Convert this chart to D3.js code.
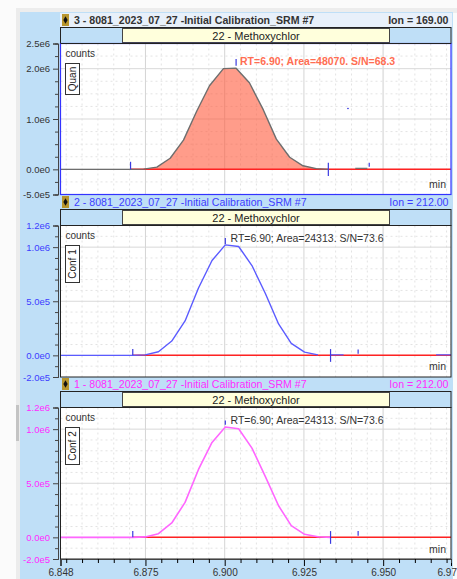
<!DOCTYPE html>
<html>
<head>
<meta charset="utf-8">
<script src="https://cdn.jsdelivr.net/npm/d3@7"></script>
<style>
  html, body { margin: 0; padding: 0; background: #fbfbfb; overflow: hidden; }
  svg { display: block; font-family: "Liberation Sans", Arial, sans-serif; }
</style>
</head>
<body>
<div id="chart"></div>
<script>
// values
let compoundName = "22 - Methoxychlor";
let xTicks = [6.8482, 6.875, 6.9, 6.925, 6.95, 6.9714];
let xTickLabels = ["6.848", "6.875", "6.900", "6.925", "6.950", "6.97"];
let xMinorTicks = [6.85, 6.855, 6.86, 6.865, 6.87, 6.88, 6.885, 6.89, 6.895, 6.905, 6.91, 6.915, 6.92, 6.93, 6.935, 6.94, 6.945, 6.955, 6.96, 6.965, 6.97];

let quanTimes = [6.8482, 6.8703, 6.8744, 6.8786, 6.8828, 6.887, 6.8912, 6.8952, 6.8996, 6.9036, 6.9078, 6.9122, 6.9163, 6.9205, 6.9247, 6.9289, 6.9327];
let quanValues = [0, 0, 5000, 44000, 220000, 580000, 1160000, 1660000, 2000000, 2010000, 1720000, 1180000, 600000, 240000, 70000, 15000, 0];
let conf1Times = [6.8482, 6.871, 6.8749, 6.8791, 6.8833, 6.8875, 6.8917, 6.896, 6.9002, 6.9044, 6.9086, 6.9128, 6.917, 6.921, 6.9252, 6.9294];
let conf1Values = [0, 0, 4000, 33000, 132000, 318000, 620000, 876000, 1021000, 1006000, 830000, 574000, 290000, 110000, 30000, 5000];
let conf2Times = [6.8482, 6.871, 6.8749, 6.8791, 6.8833, 6.8875, 6.8917, 6.896, 6.9002, 6.9044, 6.9086, 6.9128, 6.917, 6.921, 6.9252, 6.9294, 6.9334];
let conf2Values = [0, 0, 4000, 34000, 133000, 323000, 625000, 877000, 1020000, 1003000, 825000, 563000, 292000, 108000, 28000, 5000, 0];

// short bits of trace after the peak: [startTime, endTime, value]
let quanTail = [[6.9412, 6.945, 20000]];
let conf1Tail = [[6.9334, 6.9375, 5000], [6.9667, 6.9714, 5000]];
let conf2Tail = [];

// [time, low, high] for the small integration markers
let quanMarkers = [[6.8703, 0, 150000], [6.9036, 2060000, 2190000], [6.9327, -130000, 130000], [6.9456, 50000, 130000]];
let conf1Markers = [[6.871, 0, 58000], [6.9002, 1030000, 1085000], [6.9334, -60000, 58000], [6.9421, 15000, 55000]];
let conf2Markers = [[6.871, 0, 58000], [6.9002, 1040000, 1080000], [6.9334, -60000, 58000], [6.9421, 15000, 58000]];

let quanYTicks = [-500000, 0, 1000000, 2000000, 2500000];
let quanYLabels = ["-5.0e5", "0.0e0", "1.0e6", "2.0e6", "2.5e6"];
let quanYMinor = [-250000, 250000, 500000, 750000, 1250000, 1500000, 1750000, 2250000];
let confYTicks = [-200000, 0, 500000, 1000000, 1200000];
let confYLabels = ["-2.0e5", "0.0e0", "5.0e5", "1.0e6", "1.2e6"];
let confYMinor = [-100000, 100000, 200000, 300000, 400000, 600000, 700000, 800000, 900000, 1100000];

const W = 457, H = 579;

let panels = [
  { title: "3 - 8081_2023_07_27 -Initial Calibration_SRM #7", ion: "Ion = 169.00", tag: "Quan",
    note: "RT=6.90; Area=48070. S/N=68.3", noteX: 240, noteY: 65, noteColor: "#ff6e52", noteWeight: "bold",
    times: quanTimes, values: quanValues, tail: quanTail, markers: quanMarkers, line: "#6e6e6e", lineW: 1.4, fill: true,
    domain: [-500000, 2500000], ticks: quanYTicks, labels: quanYLabels, minor: quanYMinor,
    frameTop: 27.5, top: 43.5, bottom: 194.5, titleY: 24, tagTop: 63.5, tagBottom: 94.5,
    titleColor: "#333333", labelColor: "#333333", frame: "#3333ff", minY: 188 },
  { title: "2 - 8081_2023_07_27 -Initial Calibration_SRM #7", ion: "Ion = 212.00", tag: "Conf 1",
    note: "RT=6.90; Area=24313. S/N=73.6", noteX: 230.5, noteY: 242, noteColor: "#333333", noteWeight: "normal",
    times: conf1Times, values: conf1Values, tail: conf1Tail, markers: conf1Markers, line: "#5b5bff", lineW: 1.4, fill: false,
    domain: [-200000, 1200000], ticks: confYTicks, labels: confYLabels, minor: confYMinor,
    frameTop: 209.5, top: 225.5, bottom: 377, titleY: 206, tagTop: 245.5, tagBottom: 282.5,
    titleColor: "#3d3dff", labelColor: "#3d3dff", frame: "#222222", minY: 370 },
  { title: "1 - 8081_2023_07_27 -Initial Calibration_SRM #7", ion: "Ion = 212.00", tag: "Conf 2",
    note: "RT=6.90; Area=24313. S/N=73.6", noteX: 230.5, noteY: 424, noteColor: "#333333", noteWeight: "normal",
    times: conf2Times, values: conf2Values, tail: conf2Tail, markers: conf2Markers, line: "#ff66ff", lineW: 1.6, fill: false,
    domain: [-200000, 1200000], ticks: confYTicks, labels: confYLabels, minor: confYMinor,
    frameTop: 391.5, top: 407.5, bottom: 559, titleY: 388, tagTop: 427.5, tagBottom: 464.5,
    titleColor: "#ff2bff", labelColor: "#ff2bff", frame: "#222222", minY: 553 }
];

let svg = d3.select("#chart").append("svg").attr("width", W).attr("height", H);

// window chrome behind the plots
svg.append("rect").attr("x", 16).attr("y", 8).attr("width", W - 16).attr("height", 5).attr("fill", "#ededed");
svg.append("rect").attr("x", 16).attr("y", 8).attr("width", 4).attr("height", H - 8).attr("fill", "#ececec");
svg.append("rect").attr("x", 20).attr("y", 12).attr("width", 433).attr("height", H - 12).attr("fill", "#bfdff7");
svg.append("rect").attr("x", 16).attr("y", 405).attr("width", 3).attr("height", 36).attr("fill", "#c4c4c4");

let x = d3.scaleLinear().domain([6.8482, 6.9714]).range([60.5, 451]);

panels.forEach(function(p, idx) {
  let y = d3.scaleLinear().domain(p.domain).range([p.bottom, p.top]);
  let g = svg.append("g");

  // title bar
  if (idx == 0) {
    g.append("rect").attr("x", 60).attr("y", 13).attr("width", 392).attr("height", 14).attr("fill", "#e8f0fa");
  }
  g.append("rect").attr("x", 62).attr("y", p.titleY - 10).attr("width", 7).attr("height", 12).attr("fill", "#b8962e");
  g.append("path").attr("d", d3.symbol(d3.symbolDiamond, 16)())
    .attr("transform", "translate(65.5," + (p.titleY - 4) + ")").attr("fill", "#111111");
  g.append("text").attr("x", 74).attr("y", p.titleY).attr("font-size", 10.6)
    .attr("font-weight", idx == 0 ? "bold" : "normal").attr("fill", p.titleColor).text(p.title);
  g.append("text").attr("x", 448.5).attr("y", p.titleY).attr("text-anchor", "end").attr("font-size", 10.6)
    .attr("font-weight", idx == 0 ? "bold" : "normal").attr("fill", p.titleColor).text(p.ion);

  // header band with the compound name
  g.append("rect").attr("x", 60.5).attr("y", p.frameTop).attr("width", 390.5).attr("height", p.top - p.frameTop)
    .attr("fill", "#bfdff7").attr("stroke", "#222222");
  g.append("rect").attr("x", 122.5).attr("y", p.frameTop + 1).attr("width", 267).attr("height", p.top - p.frameTop - 2)
    .attr("fill", "#ffffdc").attr("stroke", "#444444");
  g.append("text").attr("x", 256).attr("y", p.frameTop + 12).attr("text-anchor", "middle").attr("font-size", 11)
    .attr("fill", "#222222").text(compoundName);

  // plot area and grid
  g.append("rect").attr("x", 60.5).attr("y", p.top).attr("width", 390.5).attr("height", p.bottom - p.top).attr("fill", "#ffffff");
  let grid = g.append("g");
  grid.selectAll(".vminor").data(xMinorTicks).enter().append("line")
    .attr("x1", d => x(d)).attr("x2", d => x(d)).attr("y1", p.top).attr("y2", p.bottom)
    .attr("stroke", "#e3e3e3").attr("stroke-dasharray", "2,3");
  grid.selectAll(".hminor").data(p.minor).enter().append("line")
    .attr("x1", 60.5).attr("x2", 451).attr("y1", d => y(d)).attr("y2", d => y(d))
    .attr("stroke", "#e3e3e3").attr("stroke-dasharray", "2,3");
  grid.selectAll(".vmajor").data(xTicks.slice(1, 5)).enter().append("line")
    .attr("x1", d => x(d)).attr("x2", d => x(d)).attr("y1", p.top).attr("y2", p.bottom)
    .attr("stroke", d => d == 6.95 ? "#e4e4e4" : "#d4d4d4").attr("stroke-width", d => d == 6.95 ? 1.8 : 1);
  grid.selectAll(".hmajor").data(p.ticks.slice(1, 4)).enter().append("line")
    .attr("x1", 60.5).attr("x2", 451).attr("y1", d => y(d)).attr("y2", d => y(d))
    .attr("stroke", "#d9d9d9");

  let points = p.times.map((t, i) => [t, p.values[i]]);
  let startTime = p.markers[0][0];

  // filled peak on the quan trace only
  if (p.fill) {
    let peak = points.filter(d => d[0] >= startTime);
    let area = d3.area().x(d => x(d[0])).y0(y(0)).y1(d => y(d[1]));
    g.append("path").datum(peak).attr("d", area).attr("fill", "#ff5a3c").attr("fill-opacity", 0.6);
  }

  // red baseline
  g.append("line").attr("x1", x(startTime)).attr("x2", 451).attr("y1", y(0)).attr("y2", y(0))
    .attr("stroke", "#ff2222").attr("stroke-width", 1.5);

  let line = d3.line().x(d => x(d[0])).y(d => y(d[1]));
  g.append("path").datum(points).attr("d", line).attr("fill", "none")
    .attr("stroke", p.line).attr("stroke-width", p.lineW).attr("stroke-linejoin", "round");

  g.selectAll(".tail").data(p.tail).enter().append("line")
    .attr("x1", d => x(d[0])).attr("x2", d => x(d[1])).attr("y1", d => y(d[2])).attr("y2", d => y(d[2]))
    .attr("stroke", p.line).attr("stroke-width", 1.2);

  // markers
  g.selectAll(".marker").data(p.markers).enter().append("line")
    .attr("x1", d => x(d[0])).attr("x2", d => x(d[0])).attr("y1", d => y(d[1])).attr("y2", d => y(d[2]))
    .attr("stroke", "#3a3ae0").attr("stroke-width", 1.2);

  // frame
  g.append("rect").attr("x", 60.5).attr("y", p.top).attr("width", 390.5).attr("height", p.bottom - p.top)
    .attr("fill", "none").attr("stroke", p.frame).attr("stroke-width", idx == 0 ? 1.2 : 1);
  if (idx == 0) {
    g.append("line").attr("x1", 60.5).attr("x2", 451).attr("y1", p.top).attr("y2", p.top).attr("stroke", "#222222");
  }

  // y axis
  let yAxis = d3.axisLeft(y).tickValues(p.ticks).tickFormat((d, i) => p.labels[i]).tickSize(5).tickPadding(3);
  let yMinorAxis = d3.axisLeft(y).tickValues(p.minor).tickFormat("").tickSize(3);
  let ya = g.append("g").attr("transform", "translate(58,0)").call(yAxis);
  g.append("g").attr("transform", "translate(58,0)").call(yMinorAxis);
  ya.selectAll("text").attr("font-size", 9.5).attr("font-family", "Liberation Sans").attr("fill", p.labelColor);
  g.selectAll(".domain, .tick line").attr("stroke", "#444444");

  // labels inside the plot
  g.append("text").attr("x", 65.5).attr("y", p.top + 13).attr("font-size", 10).attr("fill", "#333333").text("counts");
  g.append("rect").attr("x", 65.5).attr("y", p.tagTop).attr("width", 14).attr("height", p.tagBottom - p.tagTop)
    .attr("fill", "#ffffff").attr("stroke", "#333333");
  g.append("text").attr("transform", "translate(76," + ((p.tagTop + p.tagBottom) / 2) + ") rotate(-90)")
    .attr("text-anchor", "middle").attr("font-size", 10).attr("fill", "#222222").text(p.tag);
  g.append("text").attr("x", 446).attr("y", p.minY).attr("text-anchor", "end").attr("font-size", 10.5)
    .attr("fill", "#333333").text("min");
  g.append("text").attr("x", p.noteX).attr("y", p.noteY).attr("font-size", 10.5).attr("font-weight", p.noteWeight)
    .attr("fill", p.noteColor).text(p.note);
});

// stray blue dot in the top panel
let topY = d3.scaleLinear().domain(panels[0].domain).range([panels[0].bottom, panels[0].top]);
svg.append("circle").attr("cx", x(6.9389)).attr("cy", topY(1210000)).attr("r", 0.8).attr("fill", "#2222dd");

// shared x axis under the last panel
let xAxis = d3.axisBottom(x).tickValues(xTicks).tickFormat((d, i) => xTickLabels[i]).tickSize(7).tickPadding(3);
let xMinorAxis = d3.axisBottom(x).tickValues(xMinorTicks).tickFormat("").tickSize(4);
let xa = svg.append("g").attr("transform", "translate(0,559)").call(xAxis);
svg.append("g").attr("transform", "translate(0,559)").call(xMinorAxis);
xa.selectAll("text").attr("font-size", 10).attr("font-family", "Liberation Sans").attr("fill", "#333333");
xa.select(".tick:last-of-type text").attr("text-anchor", "end").attr("x", 5.5);
svg.selectAll("g > .domain").attr("stroke", "#444444");
</script>
</body>
</html>
